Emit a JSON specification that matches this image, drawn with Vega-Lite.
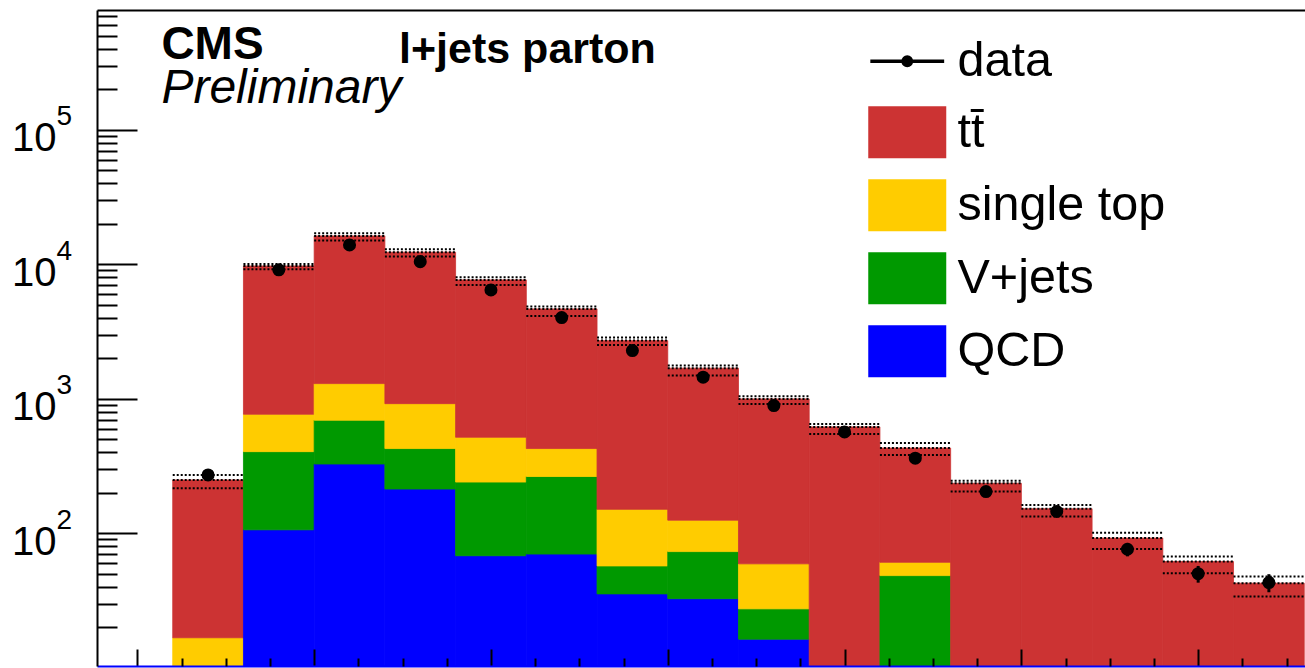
{
  "$schema": "https://vega.github.io/schema/vega-lite/v6.json",
  "width": 1208,
  "height": 656,
  "autosize": {"type": "none"},
  "padding": {"left": 97, "top": 10, "right": 0, "bottom": 2},
  "title": {"text": "35.9 fb⁻¹ (13 TeV)", "anchor": "end", "frame": "group", "fontSize": 44, "font": "Liberation Sans", "fontWeight": "normal", "color": "black", "baseline": "alphabetic", "offset": 16, "dx": -5},
  "datasets": {
    "stack": [
      {"bin_lo": 1, "bin_hi": 2, "process": "single top", "events": 16.7},
      {"bin_lo": 1, "bin_hi": 2, "process": "tt̄", "events": 232},
      {"bin_lo": 2, "bin_hi": 3, "process": "QCD", "events": 106},
      {"bin_lo": 2, "bin_hi": 3, "process": "V+jets", "events": 298},
      {"bin_lo": 2, "bin_hi": 3, "process": "single top", "events": 363},
      {"bin_lo": 2, "bin_hi": 3, "process": "tt̄", "events": 8933},
      {"bin_lo": 3, "bin_hi": 4, "process": "QCD", "events": 327},
      {"bin_lo": 3, "bin_hi": 4, "process": "V+jets", "events": 365},
      {"bin_lo": 3, "bin_hi": 4, "process": "single top", "events": 603},
      {"bin_lo": 3, "bin_hi": 4, "process": "tt̄", "events": 14935},
      {"bin_lo": 4, "bin_hi": 5, "process": "QCD", "events": 213},
      {"bin_lo": 4, "bin_hi": 5, "process": "V+jets", "events": 213},
      {"bin_lo": 4, "bin_hi": 5, "process": "single top", "events": 493},
      {"bin_lo": 4, "bin_hi": 5, "process": "tt̄", "events": 11360},
      {"bin_lo": 5, "bin_hi": 6, "process": "QCD", "events": 68},
      {"bin_lo": 5, "bin_hi": 6, "process": "V+jets", "events": 172},
      {"bin_lo": 5, "bin_hi": 6, "process": "single top", "events": 277},
      {"bin_lo": 5, "bin_hi": 6, "process": "tt̄", "events": 7123},
      {"bin_lo": 6, "bin_hi": 7, "process": "QCD", "events": 70},
      {"bin_lo": 6, "bin_hi": 7, "process": "V+jets", "events": 194},
      {"bin_lo": 6, "bin_hi": 7, "process": "single top", "events": 162},
      {"bin_lo": 6, "bin_hi": 7, "process": "tt̄", "events": 4224},
      {"bin_lo": 7, "bin_hi": 8, "process": "QCD", "events": 35.4},
      {"bin_lo": 7, "bin_hi": 8, "process": "V+jets", "events": 21.7},
      {"bin_lo": 7, "bin_hi": 8, "process": "single top", "events": 93.5},
      {"bin_lo": 7, "bin_hi": 8, "process": "tt̄", "events": 2552},
      {"bin_lo": 8, "bin_hi": 9, "process": "QCD", "events": 32.6},
      {"bin_lo": 8, "bin_hi": 9, "process": "V+jets", "events": 40.4},
      {"bin_lo": 8, "bin_hi": 9, "process": "single top", "events": 52},
      {"bin_lo": 8, "bin_hi": 9, "process": "tt̄", "events": 1561},
      {"bin_lo": 9, "bin_hi": 10, "process": "QCD", "events": 16.3},
      {"bin_lo": 9, "bin_hi": 10, "process": "V+jets", "events": 11.1},
      {"bin_lo": 9, "bin_hi": 10, "process": "single top", "events": 31.8},
      {"bin_lo": 9, "bin_hi": 10, "process": "tt̄", "events": 937},
      {"bin_lo": 10, "bin_hi": 11, "process": "tt̄", "events": 617},
      {"bin_lo": 11, "bin_hi": 12, "process": "V+jets", "events": 48.4},
      {"bin_lo": 11, "bin_hi": 12, "process": "single top", "events": 12.4},
      {"bin_lo": 11, "bin_hi": 12, "process": "tt̄", "events": 369},
      {"bin_lo": 12, "bin_hi": 13, "process": "tt̄", "events": 235},
      {"bin_lo": 13, "bin_hi": 14, "process": "tt̄", "events": 152},
      {"bin_lo": 14, "bin_hi": 15, "process": "tt̄", "events": 92},
      {"bin_lo": 15, "bin_hi": 16, "process": "tt̄", "events": 61.5},
      {"bin_lo": 16, "bin_hi": 17, "process": "tt̄", "events": 42.5}
    ],
    "bins": [
      {"bin_lo": 1, "bin_hi": 2, "center": 1.5, "data": 271, "data_lo": 254.5, "data_hi": 287.5, "mc": 249, "mc_lo": 216, "mc_hi": 271},
      {"bin_lo": 2, "bin_hi": 3, "center": 2.5, "data": 9080, "data_lo": 8985, "data_hi": 9175, "mc": 9700, "mc_lo": 9181, "mc_hi": 10050},
      {"bin_lo": 3, "bin_hi": 4, "center": 3.5, "data": 13910, "data_lo": 13792, "data_hi": 14028, "mc": 16230, "mc_lo": 14980, "mc_hi": 17000},
      {"bin_lo": 4, "bin_hi": 5, "center": 4.5, "data": 10450, "data_lo": 10348, "data_hi": 10552, "mc": 12280, "mc_lo": 11390, "mc_hi": 12930},
      {"bin_lo": 5, "bin_hi": 6, "center": 5.5, "data": 6440, "data_lo": 6360, "data_hi": 6520, "mc": 7640, "mc_lo": 7015, "mc_hi": 8005},
      {"bin_lo": 6, "bin_hi": 7, "center": 6.5, "data": 4010, "data_lo": 3947, "data_hi": 4073, "mc": 4650, "mc_lo": 4127, "mc_hi": 4839},
      {"bin_lo": 7, "bin_hi": 8, "center": 7.5, "data": 2281, "data_lo": 2233, "data_hi": 2329, "mc": 2703, "mc_lo": 2512, "mc_hi": 2847},
      {"bin_lo": 8, "bin_hi": 9, "center": 8.5, "data": 1445, "data_lo": 1407, "data_hi": 1483, "mc": 1686, "mc_lo": 1485, "mc_hi": 1762},
      {"bin_lo": 9, "bin_hi": 10, "center": 9.5, "data": 889, "data_lo": 859, "data_hi": 919, "mc": 997, "mc_lo": 915, "mc_hi": 1044},
      {"bin_lo": 10, "bin_hi": 11, "center": 10.5, "data": 566, "data_lo": 542, "data_hi": 590, "mc": 617, "mc_lo": 547, "mc_hi": 649},
      {"bin_lo": 11, "bin_hi": 12, "center": 11.5, "data": 361, "data_lo": 342, "data_hi": 380, "mc": 430, "mc_lo": 382, "mc_hi": 469},
      {"bin_lo": 12, "bin_hi": 13, "center": 12.5, "data": 204, "data_lo": 190, "data_hi": 218, "mc": 235, "mc_lo": 204, "mc_hi": 245},
      {"bin_lo": 13, "bin_hi": 14, "center": 13.5, "data": 145, "data_lo": 133, "data_hi": 157, "mc": 152, "mc_lo": 133, "mc_hi": 162},
      {"bin_lo": 14, "bin_hi": 15, "center": 14.5, "data": 76, "data_lo": 67.3, "data_hi": 84.7, "mc": 92, "mc_lo": 76.4, "mc_hi": 101},
      {"bin_lo": 15, "bin_hi": 16, "center": 15.5, "data": 50, "data_lo": 42.9, "data_hi": 57.1, "mc": 61.5, "mc_lo": 50.4, "mc_hi": 67},
      {"bin_lo": 16, "bin_hi": 17, "center": 16.5, "data": 43, "data_lo": 36.4, "data_hi": 49.6, "mc": 42.5, "mc_lo": 33.8, "mc_hi": 47.6}
    ],
    "labels": [{"a": 1}]
  },
  "config": {
    "view": {"stroke": null},
    "font": "Liberation Sans",
    "axis": {"grid": false, "title": null, "labels": false, "ticks": false, "domain": false, "tickColor": "black", "tickWidth": 2, "domainColor": "black", "domainWidth": 2, "labelColor": "black", "labelFont": "Liberation Sans"},
    "legend": {"orient": "none", "legendX": 786, "legendY": 27, "labelFontSize": 48.5, "labelFont": "Liberation Sans", "labelColor": "black", "symbolSize": 2704, "rowPadding": 20, "labelOffset": 26, "padding": 0, "labelLimit": 0, "symbolStrokeWidth": 0}
  },
  "resolve": {"axis": {"x": "independent", "y": "independent"}},
  "layer": [
    {
      "data": {"name": "stack"},
      "mark": {"type": "bar", "orient": "vertical", "clip": true, "strokeWidth": 0.8},
      "encoding": {
        "x": {"field": "bin_lo", "type": "quantitative", "scale": {"domain": [0, 16.94], "nice": false, "zero": false},
              "axis": {"orient": "bottom", "values": [0.5, 3, 5.5, 8, 10.5, 13, 15.5], "ticks": true, "tickSize": -17, "domain": true, "domainColor": "#0000ff", "zindex": 1}},
        "x2": {"field": "bin_hi"},
        "y": {"field": "events", "type": "quantitative", "stack": "zero", "scale": {"type": "log", "domain": [10.3, 776000], "nice": false, "clamp": true},
              "axis": {"orient": "left", "values": [100, 1000, 10000, 100000], "ticks": true, "tickSize": -40, "domain": true, "zindex": 1}},
        "color": {"field": "process", "type": "nominal",
                  "scale": {"domain": ["data", "tt̄", "single top", "V+jets", "QCD"], "range": ["#000000", "#cc3333", "#ffcc00", "#009900", "#0000ff"]},
                  "legend": {"title": null, "encode": {"symbols": {"update": {
                    "shape": {"signal": "datum.value === 'data' ? 'M-1.42,0H1.42M0.16,0A0.16,0.16 0 1,1 -0.16,0A0.16,0.16 0 1,1 0.16,0Z' : 'M-1.5,-1H1.5V1H-1.5Z'"},
                    "stroke": {"value": "black"},
                    "strokeWidth": {"signal": "datum.value === 'data' ? 3.5 : 0"},
                    "opacity": {"value": 1},
                    "size": {"value": 2704}}}}}},
        "stroke": {"field": "process", "type": "nominal",
                   "scale": {"domain": ["data", "tt̄", "single top", "V+jets", "QCD"], "range": ["#000000", "#cc3333", "#ffcc00", "#009900", "#0000ff"]},
                   "legend": null},
        "order": {"field": "process", "sort": "ascending"}
      }
    },
    {
      "data": {"name": "bins"},
      "mark": {"type": "rule", "clip": true, "color": "black", "strokeWidth": 2, "strokeDash": [2, 2]},
      "encoding": {
        "x": {"field": "bin_lo", "type": "quantitative", "scale": {"domain": [0, 16.94], "nice": false, "zero": false},
              "axis": {"orient": "bottom", "values": [1.125, 1.75, 2.375, 3.625, 4.25, 4.875, 6.125, 6.75, 7.375, 8.625, 9.25, 9.875, 11.125, 11.75, 12.375, 13.625, 14.25, 14.875, 16.125, 16.75], "ticks": true, "tickSize": -8, "zindex": 1}},
        "x2": {"field": "bin_hi"},
        "y": {"field": "mc_hi", "type": "quantitative", "scale": {"type": "log", "domain": [10.3, 776000], "nice": false, "clamp": true},
              "axis": {"orient": "left", "values": [20, 30, 40, 50, 60, 70, 80, 90, 200, 300, 400, 500, 600, 700, 800, 900, 2000, 3000, 4000, 5000, 6000, 7000, 8000, 9000, 20000, 30000, 40000, 50000, 60000, 70000, 80000, 90000, 200000, 300000, 400000, 500000, 600000, 700000], "ticks": true, "tickSize": -20, "zindex": 1}}
      }
    },
    {
      "data": {"name": "bins"},
      "mark": {"type": "rule", "clip": true, "color": "black", "strokeWidth": 2, "strokeDash": [2, 2]},
      "encoding": {
        "x": {"field": "bin_lo", "type": "quantitative", "scale": {"domain": [0, 16.94], "nice": false, "zero": false},
              "axis": {"orient": "top", "domain": true, "zindex": 1}},
        "x2": {"field": "bin_hi"},
        "y": {"field": "mc_lo", "type": "quantitative", "scale": {"type": "log", "domain": [10.3, 776000], "nice": false, "clamp": true},
              "axis": {"orient": "left", "values": [100, 1000, 10000, 100000], "labels": true, "labelExpr": "'10'", "labelFontSize": 40, "labelAlign": "right", "labelBaseline": "alphabetic", "labelPadding": 41, "labelOffset": 21}}
      }
    },
    {
      "data": {"name": "bins"},
      "mark": {"type": "rule", "clip": true, "color": "black", "strokeWidth": 2, "strokeDash": [2, 2]},
      "encoding": {
        "x": {"field": "bin_lo", "type": "quantitative", "scale": {"domain": [0, 16.94], "nice": false, "zero": false}, "axis": null},
        "x2": {"field": "bin_hi"},
        "y": {"field": "mc", "type": "quantitative", "scale": {"type": "log", "domain": [10.3, 776000], "nice": false, "clamp": true},
              "axis": {"orient": "left", "values": [100, 1000, 10000, 100000], "labels": true, "labelExpr": "'' + round(log(datum.value) / LN10)", "labelFontSize": 28, "labelAlign": "left", "labelBaseline": "alphabetic", "labelPadding": 41, "labelOffset": -5}}
      }
    },
    {
      "data": {"name": "bins"},
      "mark": {"type": "rule", "clip": true, "color": "black", "strokeWidth": 3},
      "encoding": {
        "x": {"field": "center", "type": "quantitative", "scale": {"domain": [0, 16.94], "nice": false, "zero": false}, "axis": null},
        "y": {"field": "data_lo", "type": "quantitative", "scale": {"type": "log", "domain": [10.3, 776000], "nice": false, "clamp": true}, "axis": null},
        "y2": {"field": "data_hi"}
      }
    },
    {
      "data": {"name": "bins"},
      "mark": {"type": "point", "filled": true, "shape": "circle", "size": 170, "opacity": 1, "clip": true},
      "encoding": {
        "x": {"field": "center", "type": "quantitative", "scale": {"domain": [0, 16.94], "nice": false, "zero": false}, "axis": null},
        "y": {"field": "data", "type": "quantitative", "scale": {"type": "log", "domain": [10.3, 776000], "nice": false, "clamp": true}, "axis": null},
        "color": {"datum": "data", "type": "nominal", "scale": {"domain": ["data", "tt̄", "single top", "V+jets", "QCD"], "range": ["#000000", "#cc3333", "#ffcc00", "#009900", "#0000ff"]}}
      }
    },
    {
      "data": {"name": "labels"},
      "mark": {"type": "text", "text": "CMS", "font": "Liberation Sans", "fontSize": 46, "fontWeight": "bold", "align": "left", "baseline": "alphabetic", "color": "black"},
      "encoding": {
        "x": {"datum": 0.84, "type": "quantitative", "scale": {"domain": [0, 16.94], "nice": false, "zero": false}, "axis": null},
        "y": {"datum": 335000, "type": "quantitative", "scale": {"type": "log", "domain": [10.3, 776000], "nice": false, "clamp": true}, "axis": null}
      }
    },
    {
      "data": {"name": "labels"},
      "mark": {"type": "text", "text": "Preliminary", "font": "Liberation Sans", "fontSize": 48, "fontStyle": "italic", "align": "left", "baseline": "alphabetic", "color": "black"},
      "encoding": {
        "x": {"datum": 0.84, "type": "quantitative", "scale": {"domain": [0, 16.94], "nice": false, "zero": false}, "axis": null},
        "y": {"datum": 158000, "type": "quantitative", "scale": {"type": "log", "domain": [10.3, 776000], "nice": false, "clamp": true}, "axis": null}
      }
    },
    {
      "data": {"name": "labels"},
      "mark": {"type": "text", "text": "l+jets parton", "font": "Liberation Sans", "fontSize": 43, "fontWeight": "bold", "align": "left", "baseline": "alphabetic", "color": "black"},
      "encoding": {
        "x": {"datum": 4.2, "type": "quantitative", "scale": {"domain": [0, 16.94], "nice": false, "zero": false}, "axis": null},
        "y": {"datum": 314000, "type": "quantitative", "scale": {"type": "log", "domain": [10.3, 776000], "nice": false, "clamp": true}, "axis": null}
      }
    }
  ]
}
